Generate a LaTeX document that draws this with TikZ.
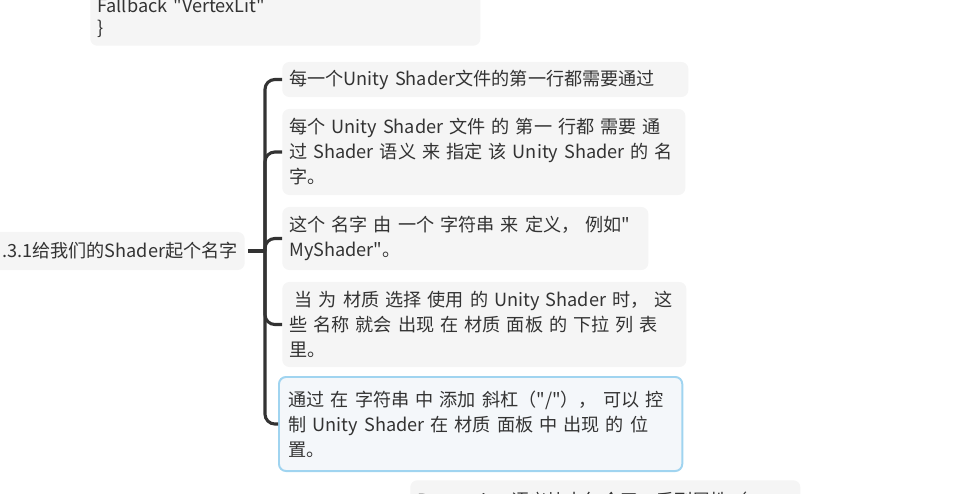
\documentclass[tikz,border=0pt]{standalone}
\usepackage{fontspec}
\setmainfont{Noto Sans CJK SC}[Ligatures=TeXOff]
\usepackage{tikz}
\usetikzlibrary{positioning}
\definecolor{mapink}{RGB}{51,51,51}
\definecolor{boxgrey}{RGB}{245,245,245}
\definecolor{selblue}{RGB}{160,212,240}
\definecolor{selfill}{RGB}{244,247,250}
\newcommand{\mapfont}{\fontsize{12.9pt}{17.8pt}\selectfont}
\newcommand{\codefont}{\fontsize{12.9pt}{16pt}\selectfont}

\begin{document}
\begin{tikzpicture}[x=0.025cm, y=-0.025cm,
    leaf/.style={rectangle, fill=boxgrey, rounded corners=5pt, align=left, anchor=west,
                 inner xsep=0.175cm, inner ysep=0pt, font=\mapfont, text=mapink},
    selleaf/.style={leaf, draw=selblue, line width=1.4pt, fill=selfill, inner xsep=0.24cm},
    branch/.style={draw=mapink, line width=2.2pt, rounded corners=7pt},
    stem/.style={draw=mapink, line width=3pt}
]
    \useasboundingbox (0,0) rectangle (976,494);
    \clip (0,0) rectangle (976,494);

    \node[leaf, anchor=south west, text width=9.4cm, inner ysep=0.2cm, font=\codefont] (code) at (90,46)
        {Fallback "VertexLit"\\\}};

    \node[leaf, anchor=east, minimum height=0.95cm] (root) at (245,251) {3.3.1给我们的Shader起个名字};
    \coordinate (hub) at (265,251);

    \node[leaf, text width=9.8cm, minimum height=0.875cm] (c1) at (282,79.5)
        {每一个Unity Shader文件的第一行都需要通过};
    \node[leaf, text width=9.725cm, minimum height=2.15cm] (c2) at (282,152)
        {每个 Unity Shader 文件 的 第一 行都 需要 通\\过 Shader 语义 来 指定 该 Unity Shader 的 名\\字。};
    \node[leaf, text width=8.8cm, minimum height=1.575cm] (c3) at (282,238.5)
        {这个 名字 由 一个 字符串 来 定义， 例如"\\MyShader"。};
    \node[leaf, text width=9.75cm, minimum height=2.125cm] (c4) at (282,324.5)
        {\hspace{0.3em}当 为 材质 选择 使用 的 Unity Shader 时， 这\\些 名称 就会 出现 在 材质 面板 的 下拉 列 表\\里。};
    \node[selleaf, text width=9.6cm, minimum height=2.35cm] (c5) at (278,424)
        {通过 在 字符串 中 添加 斜杠（"/"）， 可以 控\\制 Unity Shader 在 材质 面板 中 出现 的 位\\置。};

    \node[leaf, anchor=north west, text width=9.4cm, inner ysep=0.28cm] (props) at (410,480)
        {Properties 语义块中包含了一系列属性（};

    \draw[stem, shorten <=2pt] (root.east) -- (hub);
    \foreach \c in {c1,c2,c3,c4,c5}
        \draw[branch] (hub) |- (\c.west);
\end{tikzpicture}
\end{document}
